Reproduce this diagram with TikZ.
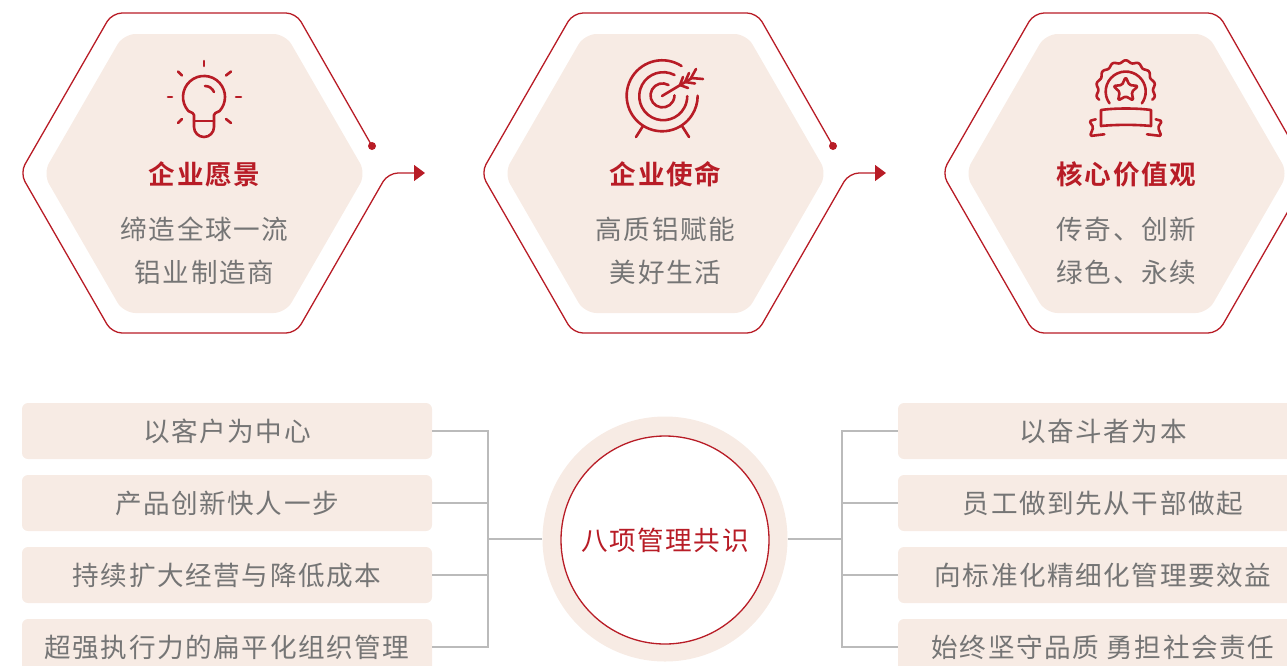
\documentclass[tikz,border=0pt]{standalone}
\usepackage{fontspec}
\newfontfamily\cjk[LetterSpace=6]{Noto Sans CJK SC}
\newfontfamily\cjkb[LetterSpace=6]{Noto Sans CJK SC Bold}
\usetikzlibrary{arrows.meta}
\definecolor{brandred}{HTML}{B81C26}
\definecolor{cream}{HTML}{F7EBE4}
\definecolor{bodygray}{HTML}{757575}
\definecolor{linegray}{HTML}{BBBBBB}
\tikzset{
  x=1pt,y=-1pt,
  outline/.style={draw=brandred,line width=1.3pt,rounded corners=10pt},
  innerhex/.style={fill=cream,rounded corners=12pt},
  icon/.style={draw=brandred,line width=2.6pt,line cap=round,line join=round},
  enddot/.style={circle,fill=brandred,minimum size=8pt,inner sep=0pt},
  titletext/.style={text=brandred,font=\fontsize{26.6}{30}\cjkb,inner sep=0pt},
  bodytext/.style={text=bodygray,font=\fontsize{26.6}{30}\cjk,inner sep=0pt},
  itembox/.style={fill=cream,rounded corners=6pt,minimum width=410pt,minimum height=56pt,inner sep=0pt,text=bodygray,font=\fontsize{26.6}{30}\cjk},
  tree/.style={draw=linegray,line width=1.2pt},
  tip/.style={-{Triangle[length=11pt,width=16pt]}},
}
\newcommand{\hexframe}[1]{%
  \fill[innerhex] (#1-81-80.5,173.5) -- (#1-81,34) -- (#1+81,34) -- (#1+81+80.5,173.5) -- (#1+81,313) -- (#1-81,313) -- cycle;
}
\begin{document}
\begin{tikzpicture}
\useasboundingbox (0,0) rectangle (1287,665);
\clip (0,0) rectangle (1287,665);
% hexagons
\hexframe{204.5}
\hexframe{665.5}
\hexframe{1126.5}
\node[enddot] (dotA) at (372,146) {};
\node[enddot] (dotB) at (833,146) {};
\node[enddot] (dotC) at (1294,146) {};
\coordinate (tipA) at (425,173);
\coordinate (tipB) at (886,173);
\coordinate (tipC) at (1347,173);
\draw[outline,tip] (dotA.center) -- (296,13) -- (112,13) -- (20,173) -- (112,333) -- (296,333) -- (388,173) -- (tipA);
\draw[outline,tip] (dotB.center) -- (757,13) -- (573,13) -- (481,173) -- (573,333) -- (757,333) -- (849,173) -- (tipB);
\draw[outline,tip] (dotC.center) -- (1218,13) -- (1034,13) -- (942,173) -- (1034,333) -- (1218,333) -- (1310,173) -- (tipC);
% bulb icon
\draw[icon] (194,122) -- (194,115) .. controls (194,113) and (192,113) .. (188.4,111) arc[start angle=222,end angle=-42,radius=21,y radius=-21] .. controls (216,113) and (214,113) .. (214,115) -- (214,127) arc[start angle=0,end angle=-180,radius=10,y radius=-10] -- cycle;
\draw[icon] (194,121) -- (214,121);
\draw[icon] (204,61) -- (204,66);
\draw[icon] (168,97) -- (172,97);
\draw[icon] (236,97) -- (241,97);
\draw[icon] (178,71.5) -- (182,75.5);
\draw[icon] (231,71.5) -- (226,75.5);
\draw[icon] (178,123) -- (182,119);
\draw[icon] (231,123) -- (226,119);
\draw[icon] (205,86) .. controls (209,86) and (212,88) .. (214,92);
% target icon
\draw[icon] (681.5,66) arc[start angle=57,end angle=360,radius=35.5,y radius=-35.5];
\draw[icon] (674.5,75) arc[start angle=62,end angle=360,radius=24,y radius=-24];
\draw[icon] (668.5,85) arc[start angle=60,end angle=360,radius=12,y radius=-12];
\draw[icon] (662,96) -- (692,78);
\draw[icon] (680,85) -- (683,77);
\draw[icon] (680,85) -- (688,88);
\draw[icon] (685,82) -- (689,73);
\draw[icon] (685,82) -- (695,83.5);
\draw[icon] (691,78) -- (696,69);
\draw[icon] (691,78) -- (703,79);
\draw[icon] (643,126) -- (636,137);
\draw[icon] (682,126) -- (689,137);
% badge icon
\draw[icon,smooth] plot[domain=200:-20,samples=130] ({1125.7+(28.5+1.2*cos(14*(\x-90)))*cos(\x)},{90-(28.5+1.2*cos(14*(\x-90)))*sin(\x)});
\draw[icon] (1109.5,103.3) arc[start angle=216,end angle=-36,radius=20,y radius=-20];
\draw[icon,rounded corners=1.5pt] (1125.7,77) -- (1129.4,85) -- (1138.1,86) -- (1131.7,92) -- (1133.3,100.5) -- (1125.7,96.3) -- (1118.1,100.5) -- (1119.7,92) -- (1113.3,86) -- (1122,85) -- cycle;
\draw[icon] (1101,110) .. controls (1115,108) and (1137,108) .. (1151,110) -- (1151,126) .. controls (1137,124.5) and (1115,124.5) .. (1101,126) -- cycle;
\draw[icon,rounded corners=1.5pt] (1095.7,119.3) -- (1089.3,121) -- (1093.3,127.3) -- (1090,136) -- (1104.3,134.3);
\draw[icon,rounded corners=1.5pt] (1155.7,119.3) -- (1162,121) -- (1158,127.3) -- (1161.3,136) -- (1147,134.3);
% hexagon texts
\node[titletext] (t1) at (204.5,174.3) {企业愿景};
\node[bodytext] (b1a) at (204.5,229.3) {缔造全球一流};
\node[bodytext] (b1b) at (204.5,272.3) {铝业制造商};
\node[titletext] (t2) at (665.5,174.3) {企业使命};
\node[bodytext] (b2a) at (665.5,229.3) {高质铝赋能};
\node[bodytext] (b2b) at (665.5,272.3) {美好生活};
\node[titletext] (t3) at (1126.5,174.3) {核心价值观};
\node[bodytext] (b3a) at (1126.5,229.3) {传奇、创新};
\node[bodytext] (b3b) at (1126.5,272.3) {绿色、永续};
% central circle
\node[circle,fill=cream,minimum size=245pt,inner sep=0pt] (halo) at (665,539) {};
\node[circle,draw=brandred,fill=white,line width=1.3pt,minimum size=208pt,inner sep=0pt,text=brandred,font=\fontsize{26.6}{30}\cjk] (core) at (665,540) {八项管理共识};
% item boxes
\node[itembox] (l1) at (227,431) {\raisebox{-1pt}{以客户为中心}};
\node[itembox] (l2) at (227,503) {\raisebox{-1pt}{产品创新快人一步}};
\node[itembox] (l3) at (227,575) {\raisebox{-1pt}{持续扩大经营与降低成本}};
\node[itembox] (l4) at (227,647) {\raisebox{-1pt}{超强执行力的扁平化组织管理}};
\node[itembox] (r1) at (1103,431) {\raisebox{-1pt}{以奋斗者为本}};
\node[itembox] (r2) at (1103,503) {\raisebox{-1pt}{员工做到先从干部做起}};
\node[itembox] (r3) at (1103,575) {\raisebox{-1pt}{向标准化精细化管理要效益}};
\node[itembox] (r4) at (1103,647) {\raisebox{-1pt}{始终坚守品质 勇担社会责任}};
% connectors
\coordinate (lbus) at (488,539);
\coordinate (rbus) at (842,539);
\draw[tree] (halo.west) -- (lbus);
\draw[tree] (halo.east) -- (rbus);
\draw[tree] (l1.east) -| (lbus);
\draw[tree] (l2.east) -| (lbus);
\draw[tree] (l3.east) -| (lbus);
\draw[tree] (l4.east) -| (lbus);
\draw[tree] (r1.west) -| (rbus);
\draw[tree] (r2.west) -| (rbus);
\draw[tree] (r3.west) -| (rbus);
\draw[tree] (r4.west) -| (rbus);
\end{tikzpicture}
\end{document}
